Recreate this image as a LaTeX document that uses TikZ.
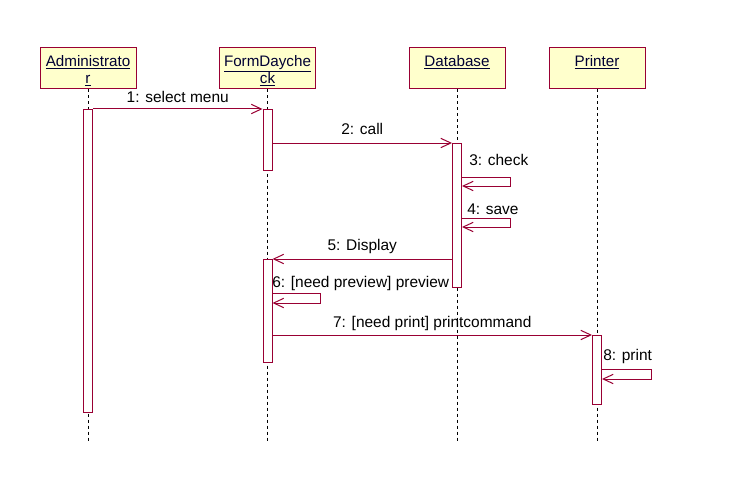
\documentclass[tikz,border=0pt]{standalone}
\usepackage{fontspec}
\setmainfont{Liberation Sans}
\usetikzlibrary{arrows.meta, positioning, calc}
\definecolor{umlline}{HTML}{990033}
\definecolor{umlfill}{HTML}{FFFFCC}
\definecolor{umltext}{HTML}{000033}

\begin{document}
\begin{tikzpicture}[
    x=0.75pt, y=-0.75pt,
    objbox/.style={draw=umlline, fill=umlfill, line width=0.75pt, minimum width=72pt, minimum height=30.75pt, inner sep=0pt},
    objname/.style={font=\fontsize{11.4}{12.75}\selectfont, text=umltext, align=center, inner sep=0pt},
    lifeline/.style={line width=0.75pt, dash pattern=on 2.25pt off 2.25pt},
    act/.style={draw=umlline, fill=white, line width=0.75pt, minimum width=6.75pt, inner sep=0pt, anchor=north},
    msg/.style={draw=umlline, line width=0.75pt, -{Straight Barb[length=7.5pt, width=7pt]}},
    msglabel/.style={font=\fontsize{11.6}{13}\selectfont, inner sep=0pt},
]
\useasboundingbox (0,0) rectangle (743,492);

% objects
\node[objbox] (admin) at (88,68.5) {};
\node[objbox] (form) at (267.5,68.5) {};
\node[objbox] (db) at (457,68.5) {};
\node[objbox] (printer) at (597,68.5) {};

\node[objname, below=5.8pt of admin.north] (adminname) {\underline{Administrato}\\\underline{r}};
\node[objname, below=5.8pt of form.north] (formname) {\underline{FormDayche}\\\underline{ck}};
\node[objname, below=5.8pt of db.north] (dbname) {\underline{Database}};
\node[objname, below=5.8pt of printer.north] (printername) {\underline{Printer}};

% lifelines
\coordinate (lifeend) at (0,442);
\foreach \o in {admin, form, db, printer} {
    \draw[lifeline] (\o.south) -- (\o.south |- lifeend);
}

% activations
\node[act, minimum height=227.25pt] (a1) at (88,109) {};
\node[act, minimum height=45.75pt] (f1) at (267.5,109) {};
\node[act, minimum height=108pt] (d1) at (457,143) {};
\node[act, minimum height=77.25pt] (f2) at (267.5,259) {};
\node[act, minimum height=51.75pt] (p1) at (597,335) {};

% self message corners
\coordinate (m3a) at (510,177);
\coordinate (m3b) at (510,186);
\coordinate (m4a) at (510,218);
\coordinate (m4b) at (510,227);
\coordinate (m6a) at (320,293);
\coordinate (m6b) at (320,303);
\coordinate (m8a) at (651,369);
\coordinate (m8b) at (651,379);

% messages
\draw[msg] (a1.north east) -- node[msglabel, midway, anchor=base, yshift=4.5pt] {1: select menu} (f1.north west);
\draw[msg] (f1.east |- d1.north) -- node[msglabel, midway, anchor=base, yshift=6pt] {2: call} (d1.north west);
\draw[msg] (d1.east |- m3a) -- (m3a) -- (m3b) -- (d1.east |- m3b);
\node[msglabel, anchor=base west] (l3) at (469,166) {3: check};
\draw[msg] (d1.east |- m4a) -- (m4a) -- (m4b) -- (d1.east |- m4b);
\node[msglabel, anchor=base west] (l4) at (467,214) {4: save};
\draw[msg] (d1.west |- f2.north) -- node[msglabel, midway, anchor=base, yshift=6.5pt] {5: Display} (f2.north east);
\draw[msg] (f2.east |- m6a) -- (m6a) -- (m6b) -- (f2.east |- m6b);
\node[msglabel, anchor=base west] (l6) at (272,287) {6: [need preview] preview};
\draw[msg] (f2.east |- p1.north) -- node[msglabel, midway, anchor=base, yshift=6pt] {7: [need print] printcommand} (p1.north west);
\draw[msg] (p1.east |- m8a) -- (m8a) -- (m8b) -- (p1.east |- m8b);
\node[msglabel, anchor=base west] (l8) at (603,360) {8: print};

\end{tikzpicture}
\end{document}
